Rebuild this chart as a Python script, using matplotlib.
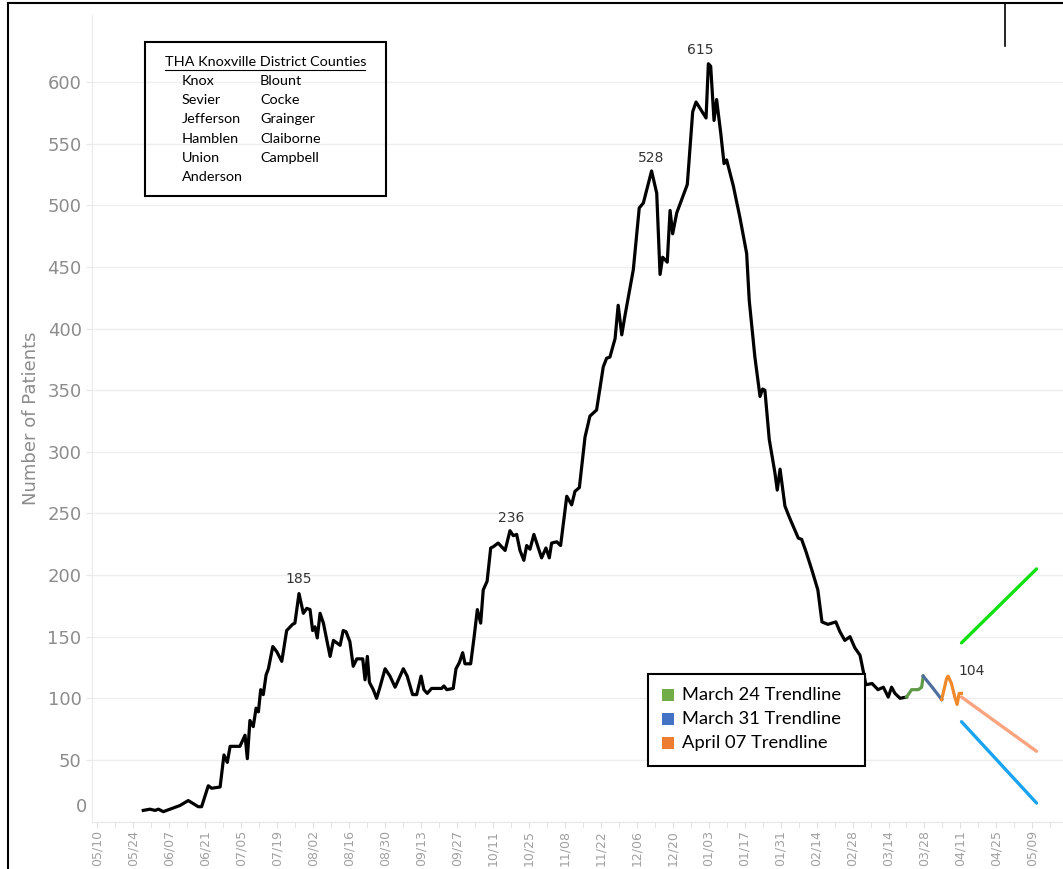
import numpy as np
import pandas as pd
import matplotlib
matplotlib.use("Agg")
import matplotlib.pyplot as plt
import matplotlib.dates as mdates
from matplotlib.lines import Line2D
from matplotlib.patches import Rectangle

START = pd.Timestamp("2020-05-10")

# days after 2020-05-10 and number of patients
black_days = [18.0, 20.6, 22.6, 23.9, 25.8, 28.4, 32.3, 35.5, 39.4, 40.7, 43.3, 44.6, 47.9,
              49.4, 50.7, 51.8, 55.6, 57.6, 58.5, 59.5, 60.8, 61.9, 62.8, 63.7, 64.7, 65.8,
              66.7, 68.4, 69.9, 71.9, 73.8, 76.1, 77.0, 78.6, 80.3, 81.6, 82.9, 83.9, 84.8,
              85.7, 86.8, 88.1, 90.7, 92.0, 94.6, 95.8, 96.9, 98.4, 99.7, 101.1, 103.4,
              104.3, 105.2, 106.0, 107.5, 108.8, 110.1, 112.1, 114.0, 116.0, 119.2, 120.7,
              122.8, 124.4, 126.1, 127.2, 128.5, 130.2, 134.1, 135.0, 136.1, 138.6, 139.7,
              141.0, 142.3, 143.2, 145.4, 146.7, 148.0, 149.3, 150.3, 151.8, 153.2, 154.2,
              156.1, 158.8, 160.7, 162.0, 163.3, 164.6, 166.1, 167.2, 168.5, 170.0, 173.0,
              174.7, 176.0, 176.9, 178.9, 180.4, 182.8, 184.7, 186.0, 187.7, 189.9, 191.8,
              194.4, 197.0, 198.3, 199.6, 201.6, 202.8, 204.2, 205.4, 208.7, 211.0, 212.6,
              215.8, 217.8, 219.1, 220.1, 221.9, 223.0, 224.0, 225.6, 229.7, 231.8, 233.1,
              237.0, 237.9, 238.8, 240.1, 241.1, 242.7, 244.0, 245.0, 247.6, 250.2, 252.8,
              253.8, 256.0, 258.0, 259.0, 259.9, 261.6, 263.8, 264.7, 265.8, 267.7, 269.4,
              272.9, 274.2, 275.9, 278.2, 280.5, 282.1, 284.4, 287.5, 289.1, 291.0, 293.0,
              294.9, 296.9, 297.7, 299.2, 301.6, 303.9, 306.0, 307.9, 309.2, 310.5, 312.5,
              315.0]
black_vals = [9, 10, 9, 10, 8, 10, 13, 17, 12, 12, 29, 27, 28,
              54, 48, 61, 61, 70, 51, 82, 77, 92, 89, 107, 103, 119,
              124, 142, 138, 130, 155, 160, 161, 185, 169, 173, 172, 155, 158,
              149, 169, 161, 134, 147, 143, 155, 154, 146, 126, 132, 132,
              115, 134, 113, 107, 100, 109, 124, 118, 109, 124, 118,
              103, 103, 118, 107, 104, 108, 108, 110, 107, 108, 124,
              129, 137, 128, 128, 149, 172, 161, 188, 195, 222, 223,
              226, 220, 236, 232, 233, 220, 212, 224, 221, 233, 214,
              222, 214, 226, 227, 224, 264, 257, 268, 271, 312, 329,
              334, 369, 376, 377, 392, 419, 395, 410, 448, 498, 502,
              528, 510, 444, 458, 454, 496, 477, 494, 517, 576, 584,
              571, 615, 613, 569, 586, 559, 534, 537, 516, 490, 461,
              423, 377, 345, 351, 350, 310, 283, 269, 286, 256, 247,
              230, 229, 219, 204, 188, 162, 160, 162, 154, 147, 150,
              141, 135, 127, 111, 112, 107, 109, 101, 109, 104, 100,
              101]

green_days = [315.0, 317.0, 319.6, 320.9, 321.5]
green_vals = [101, 107, 107, 109, 118]
blue_days = [321.5, 325.0, 328.7]
blue_vals = [118, 109, 99]
orange_days = [328.7, 330.6, 331.2, 332.5, 333.8, 334.7, 335.5, 336.4]
orange_vals = [99, 116, 118, 112, 101, 95, 104, 104]

trend_days = [336.4, 365.6]
trend_mar24 = [145, 205]
trend_mar31 = [81, 15]
trend_apr07 = [101, 57]

peak_days = [78.6, 160.7, 215.8, 237.9, 336.4]
peak_vals = [185, 236, 528, 615, 104]
peak_offsets_px = [(0, 15), (1, 13), (0, 13), (-8, 14), (10, 22)]

counties_left = ["Knox", "Sevier", "Jefferson", "Hamblen", "Union", "Anderson"]
counties_right = ["Blount", "Cocke", "Grainger", "Claiborne", "Campbell"]
legend_labels = ["March 24 Trendline", "March 31 Trendline", "April 07 Trendline"]
legend_colors = ["#70ad47", "#4472c4", "#ed7d31"]


def to_dates(days):
    return START + pd.to_timedelta(np.array(days), unit="D")


W, H = 1063, 869
fig = plt.figure(figsize=(W / 100, H / 100), dpi=100)
ax = fig.add_axes([92 / W, (H - 821.5) / H, (W - 92) / W, (821.5 - 14.5) / H])

ax.plot(to_dates(black_days), black_vals, color="black", lw=2.3, solid_joinstyle="round")
ax.plot(to_dates(green_days), green_vals, color="#5e9a48", lw=2.3)
ax.plot(to_dates(blue_days), blue_vals, color="#4e6f9e", lw=2.3)
ax.plot(to_dates(orange_days), orange_vals, color="#f0892a", lw=2.3)

ax.plot(to_dates(trend_days), trend_mar24, color="#11e011", lw=2.4, solid_capstyle="round")
ax.plot(to_dates(trend_days), trend_mar31, color="#1aa3f0", lw=2.4, solid_capstyle="round")
ax.plot(to_dates(trend_days), trend_apr07, color="#f9a47f", lw=2.4, solid_capstyle="round")

for d, v, (dx, dy) in zip(peak_days, peak_vals, peak_offsets_px):
    ax.annotate(str(v), (to_dates([d])[0], v), xytext=(dx * 0.72, dy * 0.72),
                textcoords="offset points", ha="center", va="center",
                fontsize=10, color="#333333")

# axes
ax.set_xlim(START - pd.Timedelta(days=1.95), START + pd.Timedelta(days=375.9))
ax.set_ylim(0, 655)
ax.set_yticks(range(50, 601, 50))
ax.tick_params(axis="y", labelsize=13, labelcolor="#8c8c8c", color="#e6e6e6", length=4)
ax.annotate("0", (0, 0), xycoords=("axes fraction", "data"), xytext=(-5 * 0.72, 15 * 0.72),
            textcoords="offset points", ha="right", va="center", fontsize=13, color="#8c8c8c")
ax.grid(axis="y", color="#eeeeee", lw=1)
ax.set_axisbelow(True)

ax.xaxis.set_major_locator(matplotlib.ticker.FixedLocator(
    mdates.date2num(pd.date_range("2020-05-10", "2021-05-23", freq="14D"))))
ax.xaxis.set_minor_locator(matplotlib.ticker.FixedLocator(
    mdates.date2num(pd.date_range("2020-05-03", "2021-05-30", freq="7D"))))
ax.xaxis.set_major_formatter(mdates.DateFormatter("%m/%d"))
ax.tick_params(axis="x", which="major", labelsize=9, labelcolor="#a0a0a0", rotation=90,
               color="#e0e0e0", length=4, pad=2)
ax.tick_params(axis="x", which="minor", color="#e0e0e0", length=4)

for s in ["top", "right"]:
    ax.spines[s].set_visible(False)
ax.spines["bottom"].set_color("#e6e6e6")
ax.spines["left"].set_color("#ececec")

ax.set_ylabel("Number of Patients", fontsize=13, color="#8c8c8c", labelpad=5)

# county box
fig.patches.append(Rectangle((145 / W, 1 - 196 / H), (386 - 145) / W, (196 - 42) / H,
                             transform=fig.transFigure, fill=False, ec="black", lw=1.5))
fig.text(165 / W, 1 - 62 / H, "THA Knoxville District Counties", fontsize=10.4,
         family="Lato", va="center", ha="left")
fig.add_artist(Line2D([165 / W, 365 / W], [1 - 70 / H, 1 - 70 / H], color="black", lw=0.8))
for i, name in enumerate(counties_left):
    fig.text(182 / W, 1 - (81 + i * 19.2) / H, name, fontsize=10.4, family="Lato", va="center")
for i, name in enumerate(counties_right):
    fig.text(260 / W, 1 - (81 + i * 19.2) / H, name, fontsize=10.4, family="Lato", va="center")

# trendline legend
fig.patches.append(Rectangle((648 / W, 1 - 766 / H), (865 - 648) / W, (766 - 674) / H,
                             transform=fig.transFigure, fc="white", ec="black", lw=1.5,
                             zorder=5))
for i, (lab, col) in enumerate(zip(legend_labels, legend_colors)):
    yc = 695 + i * 24
    fig.patches.append(Rectangle((662 / W, 1 - (yc + 6) / H), 12 / W, 12 / H,
                                 transform=fig.transFigure, fc=col, ec="none", zorder=6))
    fig.text(682 / W, 1 - yc / H, lab, fontsize=13.2, family="Lato", va="center", zorder=6)

# outer frame of the screenshot
fig.add_artist(Line2D([8 / W, 8 / W], [0, 1 - 3 / H], color="black", lw=1.5))
fig.add_artist(Line2D([8 / W, 1], [1 - 3 / H, 1 - 3 / H], color="black", lw=1.5))
fig.add_artist(Line2D([1005 / W, 1005 / W], [1 - 3 / H, 1 - 46 / H], color="black", lw=1.2))

fig.savefig("out.png", dpi=100)
